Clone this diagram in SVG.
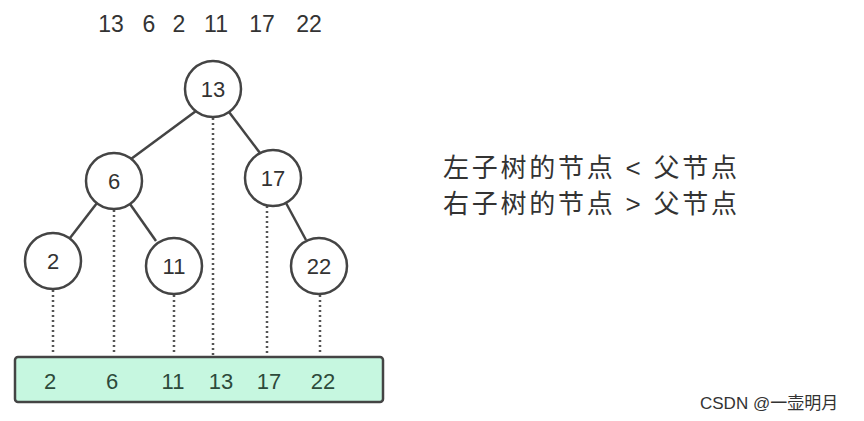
<svg xmlns="http://www.w3.org/2000/svg" width="864" height="421" viewBox="0 0 864 421">
<style>
text{font-family:"Liberation Sans","Noto Sans CJK SC",sans-serif;fill:#333}
.n circle{fill:#fff;stroke:#444;stroke-width:2.5}
.n text{font-size:22px;text-anchor:middle}
.e{stroke:#444;stroke-width:2.5}
.d{stroke:#555;stroke-width:2.5;stroke-dasharray:2 3}
.b{font-size:22px;text-anchor:middle;fill:#2d4a3b}
.t{font-size:23px;text-anchor:middle}
</style>
<rect width="864" height="421" fill="#fff"/>
<g id="sequence">
<text class="t" x="111" y="32">13</text>
<text class="t" x="149" y="32">6</text>
<text class="t" x="179" y="32">2</text>
<text class="t" x="216" y="32">11</text>
<text class="t" x="262" y="32">17</text>
<text class="t" x="309" y="32">22</text>
</g>
<g id="connectors">
<line class="e" x1="196" y1="111" x2="131" y2="159"/>
<line class="e" x1="229" y1="112" x2="260" y2="153"/>
<line class="e" x1="97" y1="203" x2="70" y2="238"/>
<line class="e" x1="130" y1="204" x2="156" y2="241"/>
<line class="e" x1="286" y1="203" x2="306" y2="240"/>
<line class="d" x1="53" y1="290" x2="53" y2="355"/>
<line class="d" x1="114" y1="210" x2="114" y2="355"/>
<line class="d" x1="174" y1="295" x2="174" y2="355"/>
<line class="d" x1="213" y1="118" x2="213" y2="355"/>
<line class="d" x1="267" y1="206" x2="267" y2="355"/>
<line class="d" x1="320" y1="295" x2="320" y2="355"/>
</g>
<g id="n13" class="n"><circle cx="213" cy="89" r="28"/><text x="213" y="97">13</text></g>
<g id="n6" class="n"><circle cx="114" cy="181" r="28"/><text x="114" y="189">6</text></g>
<g id="n17" class="n"><circle cx="273" cy="178" r="28"/><text x="273" y="186">17</text></g>
<g id="n2" class="n"><circle cx="53" cy="261" r="28"/><text x="53" y="269">2</text></g>
<g id="n11" class="n"><circle cx="174" cy="266" r="28"/><text x="174" y="274">11</text></g>
<g id="n22" class="n"><circle cx="319" cy="266" r="28"/><text x="319" y="274">22</text></g>
<g id="array">
<rect x="15" y="357" width="368" height="45" rx="3" fill="#c6f7e0" stroke="#444" stroke-width="2.5"/>
<text class="b" x="50" y="389">2</text>
<text class="b" x="112" y="389">6</text>
<text class="b" x="173" y="389">11</text>
<text class="b" x="221" y="389">13</text>
<text class="b" x="269" y="389">17</text>
<text class="b" x="323" y="389">22</text>
</g>
<text x="443" y="177" font-size="26" textLength="294">左子树的节点 &lt; 父节点</text>
<text x="443" y="213" font-size="26" textLength="294">右子树的节点 &gt; 父节点</text>
<text x="700" y="409" font-size="17" fill="#555">CSDN @一壶明月</text>
</svg>
